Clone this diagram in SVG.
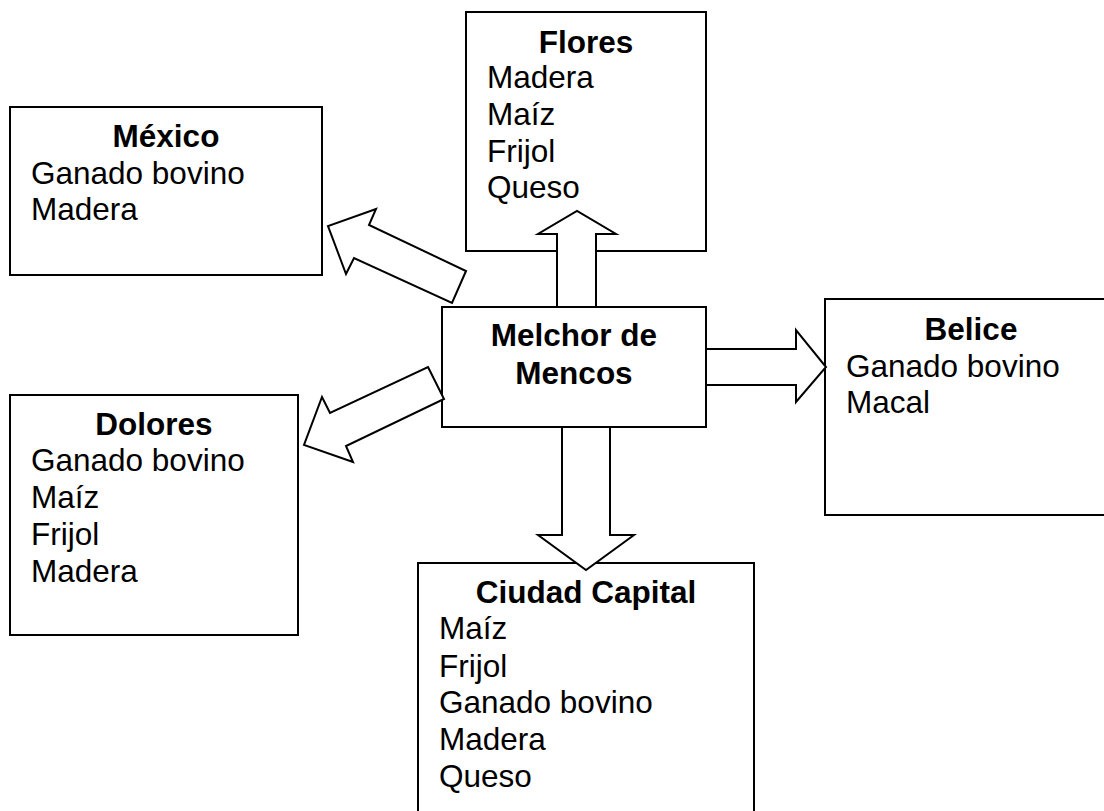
<svg xmlns="http://www.w3.org/2000/svg" width="1104" height="811" viewBox="0 0 1104 811">
<style>
.box{fill:#fff;stroke:#000;stroke-width:2}
.arr{fill:#fff;stroke:#000;stroke-width:2;stroke-linejoin:miter}
text{font-family:"Liberation Sans",Arial,sans-serif;font-size:31.5px;fill:#000}
.t{font-weight:bold;text-anchor:middle}
</style>
<rect width="1104" height="811" fill="#fff"/>
<g id="flores">
<rect class="box" x="466" y="12" width="240" height="239"/>
<text class="t" x="586" y="53">Flores</text>
<text x="487" y="88">Madera</text>
<text x="487" y="125">Maíz</text>
<text x="487" y="162">Frijol</text>
<text x="487" y="198">Queso</text>
</g>
<g id="mexico">
<rect class="box" x="10" y="107" width="312" height="168"/>
<text class="t" x="166" y="147">México</text>
<text x="31" y="184">Ganado bovino</text>
<text x="31" y="220">Madera</text>
</g>
<g id="melchor">
<rect class="box" x="442" y="307" width="264" height="120"/>
<text class="t" x="574" y="346">Melchor de</text>
<text class="t" x="574" y="384">Mencos</text>
</g>
<g id="belice">
<rect class="box" x="825" y="299" width="300" height="216"/>
<text class="t" x="971" y="340">Belice</text>
<text x="846" y="377">Ganado bovino</text>
<text x="846" y="413">Macal</text>
</g>
<g id="dolores">
<rect class="box" x="10" y="395" width="288" height="240"/>
<text class="t" x="154" y="435">Dolores</text>
<text x="31" y="471">Ganado bovino</text>
<text x="31" y="508">Maíz</text>
<text x="31" y="545">Frijol</text>
<text x="31" y="582">Madera</text>
</g>
<g id="ciudad-capital">
<rect class="box" x="418" y="563" width="336" height="270"/>
<text class="t" x="586" y="603">Ciudad Capital</text>
<text x="439" y="639">Maíz</text>
<text x="439" y="677">Frijol</text>
<text x="439" y="713">Ganado bovino</text>
<text x="439" y="750">Madera</text>
<text x="439" y="787">Queso</text>
</g>
<g id="connectors">
<polygon class="arr" points="557,307 557,234 538,234 577,211 616,234 596,234 596,307"/>
<polygon class="arr" points="466,271 452,303 354,258 346,274 328,226 376,209 369,225"/>
<polygon class="arr" points="706,349 796,349 796,330 826,367 796,402 796,385 706,385"/>
<polygon class="arr" points="428,367 444,399 346,446 353,462 304,445 322,397 330,413"/>
<polygon class="arr" points="562,427 562,535 538,535 586,570 634,535 610,535 610,427"/>
</g>
</svg>
